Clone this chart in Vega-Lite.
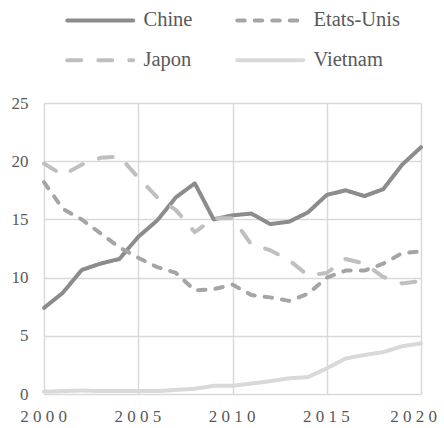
{
  "$schema": "https://vega.github.io/schema/vega-lite/v6.json",
  "width": 377,
  "height": 291,
  "autosize": {"type": "none"},
  "padding": {"left": 44, "top": 103, "right": 23, "bottom": 34},
  "background": "white",
  "config": {
    "view": {"stroke": null},
    "font": "Liberation Serif",
    "legend": {
      "orient": "none",
      "direction": "horizontal",
      "legendX": 20,
      "legendY": -93,
      "columns": 2,
      "columnPadding": 36,
      "rowPadding": 19,
      "padding": 0,
      "symbolType": "M-1.4,0H11.8",
      "symbolSize": 100,
      "symbolStrokeWidth": 4,
      "labelFont": "Liberation Serif",
      "labelFontSize": 20.5,
      "labelColor": "#595959",
      "labelOffset": 59,
      "title": null
    }
  },
  "data": {
    "values": [
      {"year": 2000, "pays": "Chine", "value": 7.4},
      {"year": 2001, "pays": "Chine", "value": 8.7},
      {"year": 2002, "pays": "Chine", "value": 10.65},
      {"year": 2003, "pays": "Chine", "value": 11.2},
      {"year": 2004, "pays": "Chine", "value": 11.6},
      {"year": 2005, "pays": "Chine", "value": 13.5},
      {"year": 2006, "pays": "Chine", "value": 14.9},
      {"year": 2007, "pays": "Chine", "value": 16.9},
      {"year": 2008, "pays": "Chine", "value": 18.1},
      {"year": 2009, "pays": "Chine", "value": 15.0},
      {"year": 2010, "pays": "Chine", "value": 15.35},
      {"year": 2011, "pays": "Chine", "value": 15.5},
      {"year": 2012, "pays": "Chine", "value": 14.6},
      {"year": 2013, "pays": "Chine", "value": 14.8},
      {"year": 2014, "pays": "Chine", "value": 15.6},
      {"year": 2015, "pays": "Chine", "value": 17.1},
      {"year": 2016, "pays": "Chine", "value": 17.5},
      {"year": 2017, "pays": "Chine", "value": 17.0},
      {"year": 2018, "pays": "Chine", "value": 17.6},
      {"year": 2019, "pays": "Chine", "value": 19.7},
      {"year": 2020, "pays": "Chine", "value": 21.2},
      {"year": 2000, "pays": "Etats-Unis", "value": 18.2},
      {"year": 2001, "pays": "Etats-Unis", "value": 15.9},
      {"year": 2002, "pays": "Etats-Unis", "value": 15.0},
      {"year": 2003, "pays": "Etats-Unis", "value": 13.8},
      {"year": 2004, "pays": "Etats-Unis", "value": 12.6},
      {"year": 2005, "pays": "Etats-Unis", "value": 11.7},
      {"year": 2006, "pays": "Etats-Unis", "value": 10.9},
      {"year": 2007, "pays": "Etats-Unis", "value": 10.4},
      {"year": 2008, "pays": "Etats-Unis", "value": 8.9},
      {"year": 2009, "pays": "Etats-Unis", "value": 9.0},
      {"year": 2010, "pays": "Etats-Unis", "value": 9.4},
      {"year": 2011, "pays": "Etats-Unis", "value": 8.5},
      {"year": 2012, "pays": "Etats-Unis", "value": 8.3},
      {"year": 2013, "pays": "Etats-Unis", "value": 8.0},
      {"year": 2014, "pays": "Etats-Unis", "value": 8.6},
      {"year": 2015, "pays": "Etats-Unis", "value": 10.0},
      {"year": 2016, "pays": "Etats-Unis", "value": 10.6},
      {"year": 2017, "pays": "Etats-Unis", "value": 10.6},
      {"year": 2018, "pays": "Etats-Unis", "value": 11.2},
      {"year": 2019, "pays": "Etats-Unis", "value": 12.1},
      {"year": 2020, "pays": "Etats-Unis", "value": 12.25},
      {"year": 2000, "pays": "Japon", "value": 19.8},
      {"year": 2001, "pays": "Japon", "value": 18.8},
      {"year": 2002, "pays": "Japon", "value": 19.7},
      {"year": 2003, "pays": "Japon", "value": 20.3},
      {"year": 2004, "pays": "Japon", "value": 20.4},
      {"year": 2005, "pays": "Japon", "value": 18.6},
      {"year": 2006, "pays": "Japon", "value": 16.9},
      {"year": 2007, "pays": "Japon", "value": 15.8},
      {"year": 2008, "pays": "Japon", "value": 13.9},
      {"year": 2009, "pays": "Japon", "value": 15.1},
      {"year": 2010, "pays": "Japon", "value": 15.1},
      {"year": 2011, "pays": "Japon", "value": 12.85},
      {"year": 2012, "pays": "Japon", "value": 12.35},
      {"year": 2013, "pays": "Japon", "value": 11.5},
      {"year": 2014, "pays": "Japon", "value": 10.2},
      {"year": 2015, "pays": "Japon", "value": 10.4},
      {"year": 2016, "pays": "Japon", "value": 11.6},
      {"year": 2017, "pays": "Japon", "value": 11.2},
      {"year": 2018, "pays": "Japon", "value": 10.05},
      {"year": 2019, "pays": "Japon", "value": 9.5},
      {"year": 2020, "pays": "Japon", "value": 9.7},
      {"year": 2000, "pays": "Vietnam", "value": 0.2},
      {"year": 2001, "pays": "Vietnam", "value": 0.25},
      {"year": 2002, "pays": "Vietnam", "value": 0.3},
      {"year": 2003, "pays": "Vietnam", "value": 0.25},
      {"year": 2004, "pays": "Vietnam", "value": 0.25},
      {"year": 2005, "pays": "Vietnam", "value": 0.25},
      {"year": 2006, "pays": "Vietnam", "value": 0.25},
      {"year": 2007, "pays": "Vietnam", "value": 0.35},
      {"year": 2008, "pays": "Vietnam", "value": 0.45},
      {"year": 2009, "pays": "Vietnam", "value": 0.7},
      {"year": 2010, "pays": "Vietnam", "value": 0.7},
      {"year": 2011, "pays": "Vietnam", "value": 0.9},
      {"year": 2012, "pays": "Vietnam", "value": 1.1},
      {"year": 2013, "pays": "Vietnam", "value": 1.35},
      {"year": 2014, "pays": "Vietnam", "value": 1.45},
      {"year": 2015, "pays": "Vietnam", "value": 2.2},
      {"year": 2016, "pays": "Vietnam", "value": 3.05},
      {"year": 2017, "pays": "Vietnam", "value": 3.35},
      {"year": 2018, "pays": "Vietnam", "value": 3.6},
      {"year": 2019, "pays": "Vietnam", "value": 4.1},
      {"year": 2020, "pays": "Vietnam", "value": 4.35}
    ]
  },
  "mark": {"type": "line", "strokeWidth": 4, "strokeCap": "round", "strokeJoin": "round"},
  "encoding": {
    "x": {
      "field": "year",
      "type": "quantitative",
      "scale": {"domain": [2000, 2020], "nice": false, "zero": false},
      "axis": {
        "title": null,
        "format": "d",
        "values": [2000, 2005, 2010, 2015, 2020],
        "grid": true,
        "gridColor": "#d9d9d9",
        "gridWidth": 1.5,
        "domain": false,
        "ticks": false,
        "labelFont": "Liberation Serif",
        "labelFontSize": 17,
        "labelColor": "#595959",
        "labelPadding": 14,
        "labelFlush": false,
        "labelOverlap": false,
        "labelOffset": {"condition": {"test": "datum.value == 2020", "value": -8}, "value": -1},
        "labelExpr": "join(split(datum.label, ''), ' ')"
      }
    },
    "y": {
      "field": "value",
      "type": "quantitative",
      "scale": {"domain": [0, 25], "nice": false},
      "axis": {
        "title": null,
        "values": [0, 5, 10, 15, 20, 25],
        "grid": true,
        "gridColor": "#d9d9d9",
        "gridWidth": 1.5,
        "domain": false,
        "ticks": false,
        "labelFont": "Liberation Serif",
        "labelFontSize": 17,
        "labelColor": "#595959",
        "labelPadding": 16
      }
    },
    "color": {
      "field": "pays",
      "type": "nominal",
      "scale": {
        "domain": ["Chine", "Etats-Unis", "Japon", "Vietnam"],
        "range": ["#8c8c8c", "#a5a5a5", "#bfbfbf", "#d9d9d9"]
      },
      "legend": {"encode": {"symbols": {"update": {"strokeCap": {"value": "round"}}}}}
    },
    "strokeDash": {
      "field": "pays",
      "type": "nominal",
      "scale": {
        "domain": ["Chine", "Etats-Unis", "Japon", "Vietnam"],
        "range": [[1, 0], [7.5, 10], [14, 17], [1, 0]]
      },
      "legend": {"encode": {"symbols": {"update": {"strokeCap": {"value": "round"}}}}}
    }
  }
}
